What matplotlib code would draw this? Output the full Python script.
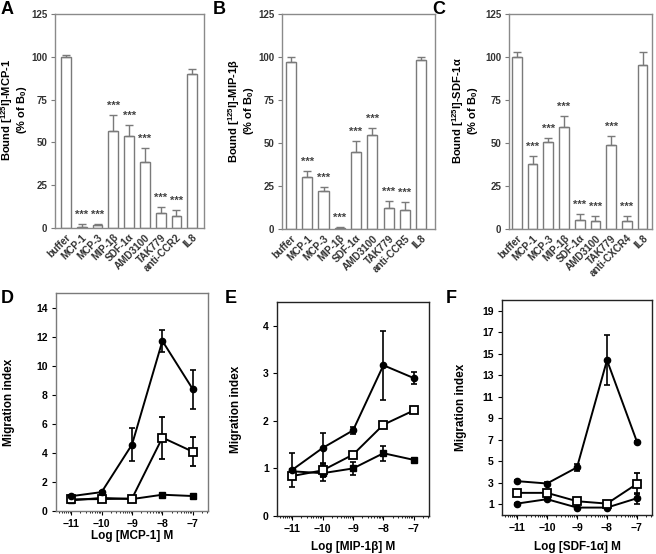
import numpy as np
import matplotlib
matplotlib.use('Agg')
import matplotlib.pyplot as plt

plt.rcParams['font.family'] = ['Liberation Sans', 'DejaVu Sans']
plt.rcParams['font.weight'] = 'bold'
plt.rcParams['axes.labelweight'] = 'bold'
plt.rcParams['mathtext.fontset'] = 'custom'
plt.rcParams['mathtext.bf'] = 'Liberation Sans:bold'
plt.rcParams['mathtext.rm'] = 'Liberation Sans:bold'
plt.rcParams['mathtext.default'] = 'bf'

# ---- binding data (panels A-C) ----
labels_a = ['buffer', 'MCP-1', 'MCP-3', 'MIP-1β', 'SDF-1α', 'AMD3100', 'TAK779', 'anti-CCR2', 'IL8']
vals_a = [100, 0.5, 1.5, 56.5, 54, 38.5, 8.5, 7, 90]
err_a = [1, 2, 1, 9.5, 6, 8, 3.5, 3.5, 3]
sig_a = [0, 1, 1, 1, 1, 1, 1, 1, 0]

labels_b = ['buffer', 'MCP-1', 'MCP-3', 'MIP-1β', 'SDF-1α', 'AMD3100', 'TAK779', 'anti-CCR5', 'IL8']
vals_b = [97, 30, 22, 0.3, 45, 54.5, 12.5, 11, 98]
err_b = [3, 3.5, 2.5, 0.6, 6, 4.5, 4, 4.5, 2]
sig_b = [0, 1, 1, 1, 1, 1, 1, 1, 0]

labels_c = ['buffer', 'MCP-1', 'MCP-3', 'MIP-1β', 'SDF-1α', 'AMD3100', 'TAK779', 'anti-CXCR4', 'IL8']
vals_c = [100, 38, 50.5, 59.5, 5, 4.5, 49, 4.5, 95.5]
err_c = [3, 4.5, 2.5, 6, 3.5, 3, 5, 3, 7.5]
sig_c = [0, 1, 1, 1, 1, 1, 1, 1, 0]

# ---- migration data (panels D-F) ----
logc = [-11, -10, -9, -8, -7]

d_circ = [1.02, 1.3, 4.57, 11.7, 8.38]
d_circ_e = [0.1, 0.1, 1.15, 0.78, 1.35]
d_osq = [0.8, 0.82, 0.86, 5.05, 4.08]
d_osq_e = [0.05, 0.05, 0.05, 1.45, 1.0]
d_fsq = [0.73, 0.9, 0.82, 1.12, 1.03]
d_fsq_e = [0.05, 0.05, 0.05, 0.05, 0.05]

e_circ = [0.97, 1.43, 1.8, 3.17, 2.9]
e_circ_e = [0.35, 0.31, 0.08, 0.73, 0.12]
e_osq = [0.84, 0.96, 1.29, 1.92, 2.22]
e_osq_e = [0.05, 0.14, 0.03, 0.03, 0.03]
e_fsq = [0.94, 0.9, 1.0, 1.32, 1.18]
e_fsq_e = [0.05, 0.16, 0.14, 0.16, 0.03]

f_circ = [3.15, 2.93, 4.43, 14.4, 6.8]
f_circ_e = [0.1, 0.1, 0.35, 2.3, 0.1]
f_osq = [2.06, 2.06, 1.28, 1.06, 2.9]
f_osq_e = [0.1, 0.1, 0.1, 0.1, 0.97]
f_low = [1.06, 1.47, 0.69, 0.69, 1.56]
f_low_e = [0.05, 0.1, 0.05, 0.05, 0.5]

W, H = 656, 554
fig = plt.figure(figsize=(W / 100, H / 100), dpi=100)


def rect(l, t, r, b):
    return [l / W, 1 - b / H, (r - l) / W, (b - t) / H]


def bold_ticks(ax):
    for t in ax.get_xticklabels() + ax.get_yticklabels():
        t.set_fontweight('bold')


def bar_panel(box, labels, vals, errs, sig, ylab, xlim, lab_x):
    ax = fig.add_axes(rect(*box))
    x = np.arange(len(vals))
    ax.bar(x, vals, width=0.62, color='white', edgecolor='#7a7a7a', linewidth=1.0)
    ax.errorbar(x, vals, yerr=[np.zeros(len(errs)), errs], fmt='none',
                ecolor='#7a7a7a', elinewidth=1.0, capsize=3, capthick=1.0)
    for xi, v, e, s in zip(x, vals, errs, sig):
        if s:
            ax.annotate('***', (xi, v + e), xytext=(0, 3), textcoords='offset points',
                        ha='center', va='bottom', fontsize=8, color='#444444')
    ax.set_ylim(0, 125)
    ax.set_xlim(*xlim)
    ax.set_yticks([0, 25, 50, 75, 100, 125])
    ax.set_xticks(x)
    ax.set_xticklabels(labels, rotation=45, ha='right', rotation_mode='anchor')
    ax.tick_params(axis='x', length=0, pad=3, labelsize=7.2, colors='#333333')
    ax.tick_params(axis='y', direction='out', length=3, width=0.8, labelsize=7,
                   colors='#333333', color='#7a7a7a', pad=2.5)
    bold_ticks(ax)
    for sp in ax.spines.values():
        sp.set_color('#8a8a8a')
        sp.set_linewidth(1.0)
    ax.set_ylabel(ylab, fontsize=8, linespacing=1.0, fontweight='bold')
    ax.yaxis.set_label_coords(lab_x, 0.55)
    return ax


bar_panel((55, 14, 204, 228), labels_a, vals_a, err_a, sig_a,
          'Bound [$^{125}$I]-MCP-1\n(% of B$_0$)', (-0.7, 8.75), -0.175)
bar_panel((282, 14, 435, 229), labels_b, vals_b, err_b, sig_b,
          'Bound [$^{125}$I]-MIP-1β\n(% of B$_0$)', (-0.55, 8.85), -0.17)
bar_panel((509, 14, 652, 229), labels_c, vals_c, err_c, sig_c,
          'Bound [$^{125}$I]-SDF-1α\n(% of B$_0$)', (-0.5, 8.6), -0.2)


def line_panel(box, series, ylim, yticks, xlab, ylab_x, xlab_y, frame):
    ax = fig.add_axes(rect(*box))
    for y, e, style in series:
        if style == 'circ':
            kw = dict(marker='o', ms=4.5, mfc='black', mec='black')
        elif style == 'osq':
            kw = dict(marker='s', ms=5.2, mfc='white', mec='black', mew=1.3)
        else:
            kw = dict(marker='s', ms=4.8, mfc='black', mec='black')
        ax.errorbar(logc, y, yerr=e, color='black', lw=1.4, elinewidth=1.2,
                    capsize=2.5, capthick=1.2, **kw)
    ax.set_xlim(-11.5, -6.5)
    ax.set_ylim(*ylim)
    ax.set_yticks(yticks)
    ax.set_xticks(logc)
    minors = [n + np.log10(k) for n in range(-12, -6) for k in range(2, 10)]
    minors = [m for m in minors if -11.5 < m < -6.5]
    ax.set_xticks(minors, minor=True)
    ax.tick_params(which='major', direction='out', length=3, width=0.8, labelsize=7.5, pad=3)
    ax.tick_params(which='minor', direction='out', length=1.6, width=0.6)
    bold_ticks(ax)
    for sp in ax.spines.values():
        sp.set_color(frame)
        sp.set_linewidth(1.0)
    ax.set_ylabel('Migration index', fontsize=8.5, fontweight='bold')
    ax.yaxis.set_label_coords(ylab_x, 0.5)
    ax.set_xlabel(xlab, fontsize=8.5, fontweight='bold')
    ax.xaxis.set_label_coords(0.5, xlab_y)
    return ax


line_panel((56, 293, 208, 511),
           [(d_fsq, d_fsq_e, 'fsq'), (d_osq, d_osq_e, 'osq'), (d_circ, d_circ_e, 'circ')],
           (0, 15), [0, 2, 4, 6, 8, 10, 12, 14], 'Log [MCP-1] M', -0.27, -0.085, '#7a7a7a')
line_panel((277, 302, 429, 516),
           [(e_fsq, e_fsq_e, 'fsq'), (e_osq, e_osq_e, 'osq'), (e_circ, e_circ_e, 'circ')],
           (0, 4.5), [0, 1, 2, 3, 4], 'Log [MIP-1β] M', -0.23, -0.115, '#222222')
line_panel((502, 300, 652, 515),
           [(f_low, f_low_e, 'circ'), (f_osq, f_osq_e, 'osq'), (f_circ, f_circ_e, 'circ')],
           (0, 20), [1, 3, 5, 7, 9, 11, 13, 15, 17, 19], 'Log [SDF-1α] M', -0.235, -0.12, '#222222')

# panel letters
for letter, px, py in [('A', 1, 1), ('B', 213, 1), ('C', 432, 1),
                       ('D', 1, 290), ('E', 225, 290), ('F', 446, 290)]:
    fig.text(px / W, 1 - py / H, letter, fontsize=13, fontweight='bold', ha='left', va='top')

fig.savefig('out.png', dpi=100)
